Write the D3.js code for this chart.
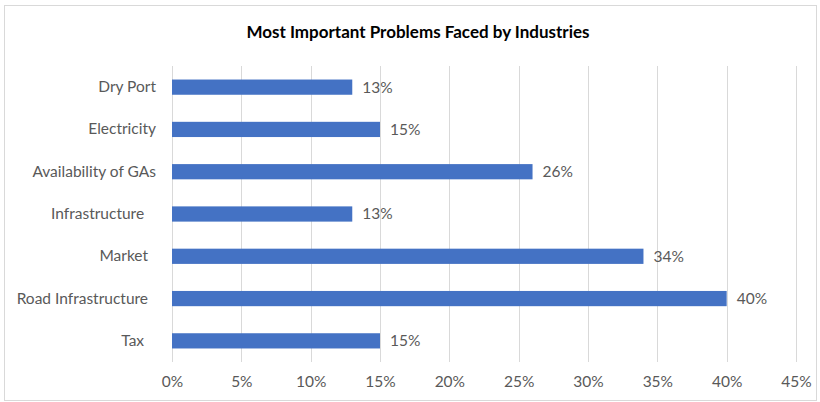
<!DOCTYPE html>
<html><head><meta charset="utf-8">
<script src="https://cdn.jsdelivr.net/npm/d3@7"></script>
<style>
html,body{margin:0;padding:0;background:#fff;}
svg text{font-family:Lato,"Open Sans",sans-serif;white-space:pre;}
</style></head>
<body><svg id="c" width="820" height="402"></svg>
<script>
const categories = ["Dry Port","Electricity","Availability of GAs","Infrastructure   ","Market  ","Road Infrastructure  ","Tax   "];
const values = [13,15,26,13,34,40,15];
const tickValues = [0,5,10,15,20,25,30,35,40,45];
const title = "Most Important Problems Faced by Industries";

const svg = d3.select("#c");
svg.append("rect").attr("x",4.5).attr("y",5.5).attr("width",812).attr("height",395)
  .attr("fill","#fff").attr("stroke","#d9d9d9").attr("stroke-width",1);

const x = d3.scaleLinear().domain([0,45]).range([172,796]);
const y = d3.scaleBand().domain(categories).range([66,362]).paddingInner(0.64).paddingOuter(0.32);

svg.append("text").attr("x",418).attr("y",38).attr("text-anchor","middle")
  .attr("font-size",17).attr("font-weight","bold").attr("fill","#000").text(title);

// gridlines
svg.append("g").selectAll("line").data(tickValues).join("line")
  .attr("x1",d=>Math.round(x(d))+0.5).attr("x2",d=>Math.round(x(d))+0.5)
  .attr("y1",66).attr("y2",362).attr("stroke","#d9d9d9").attr("stroke-width",1);

// x axis labels
const xa = svg.append("g").attr("transform","translate(0,362)")
  .call(d3.axisBottom(x).tickValues(tickValues).tickFormat(d=>d+"%").tickSize(0).tickPadding(14));
xa.select(".domain").remove();
xa.selectAll("text").attr("font-size",15.5).attr("fill","#595959").attr("font-family","Lato");

// y axis labels
const ya = svg.append("g").attr("transform","translate(156,0)")
  .call(d3.axisLeft(y).tickSize(0).tickPadding(0));
ya.select(".domain").remove();
ya.selectAll("text").attr("font-size",15.5).attr("fill","#595959").attr("font-family","Lato");

// bars
svg.append("g").selectAll("rect").data(values).join("rect")
  .attr("x",x(0)).attr("y",(d,i)=>y(categories[i]))
  .attr("width",d=>x(d)-x(0)).attr("height",y.bandwidth())
  .attr("fill","#4472C4");

// value labels
svg.append("g").selectAll("text").data(values).join("text")
  .attr("x",d=>x(d)+10).attr("y",(d,i)=>y(categories[i])+y.bandwidth()/2)
  .attr("dy","0.35em").attr("font-size",15.5).attr("fill","#595959")
  .text(d=>d+"%");
</script></body></html>
